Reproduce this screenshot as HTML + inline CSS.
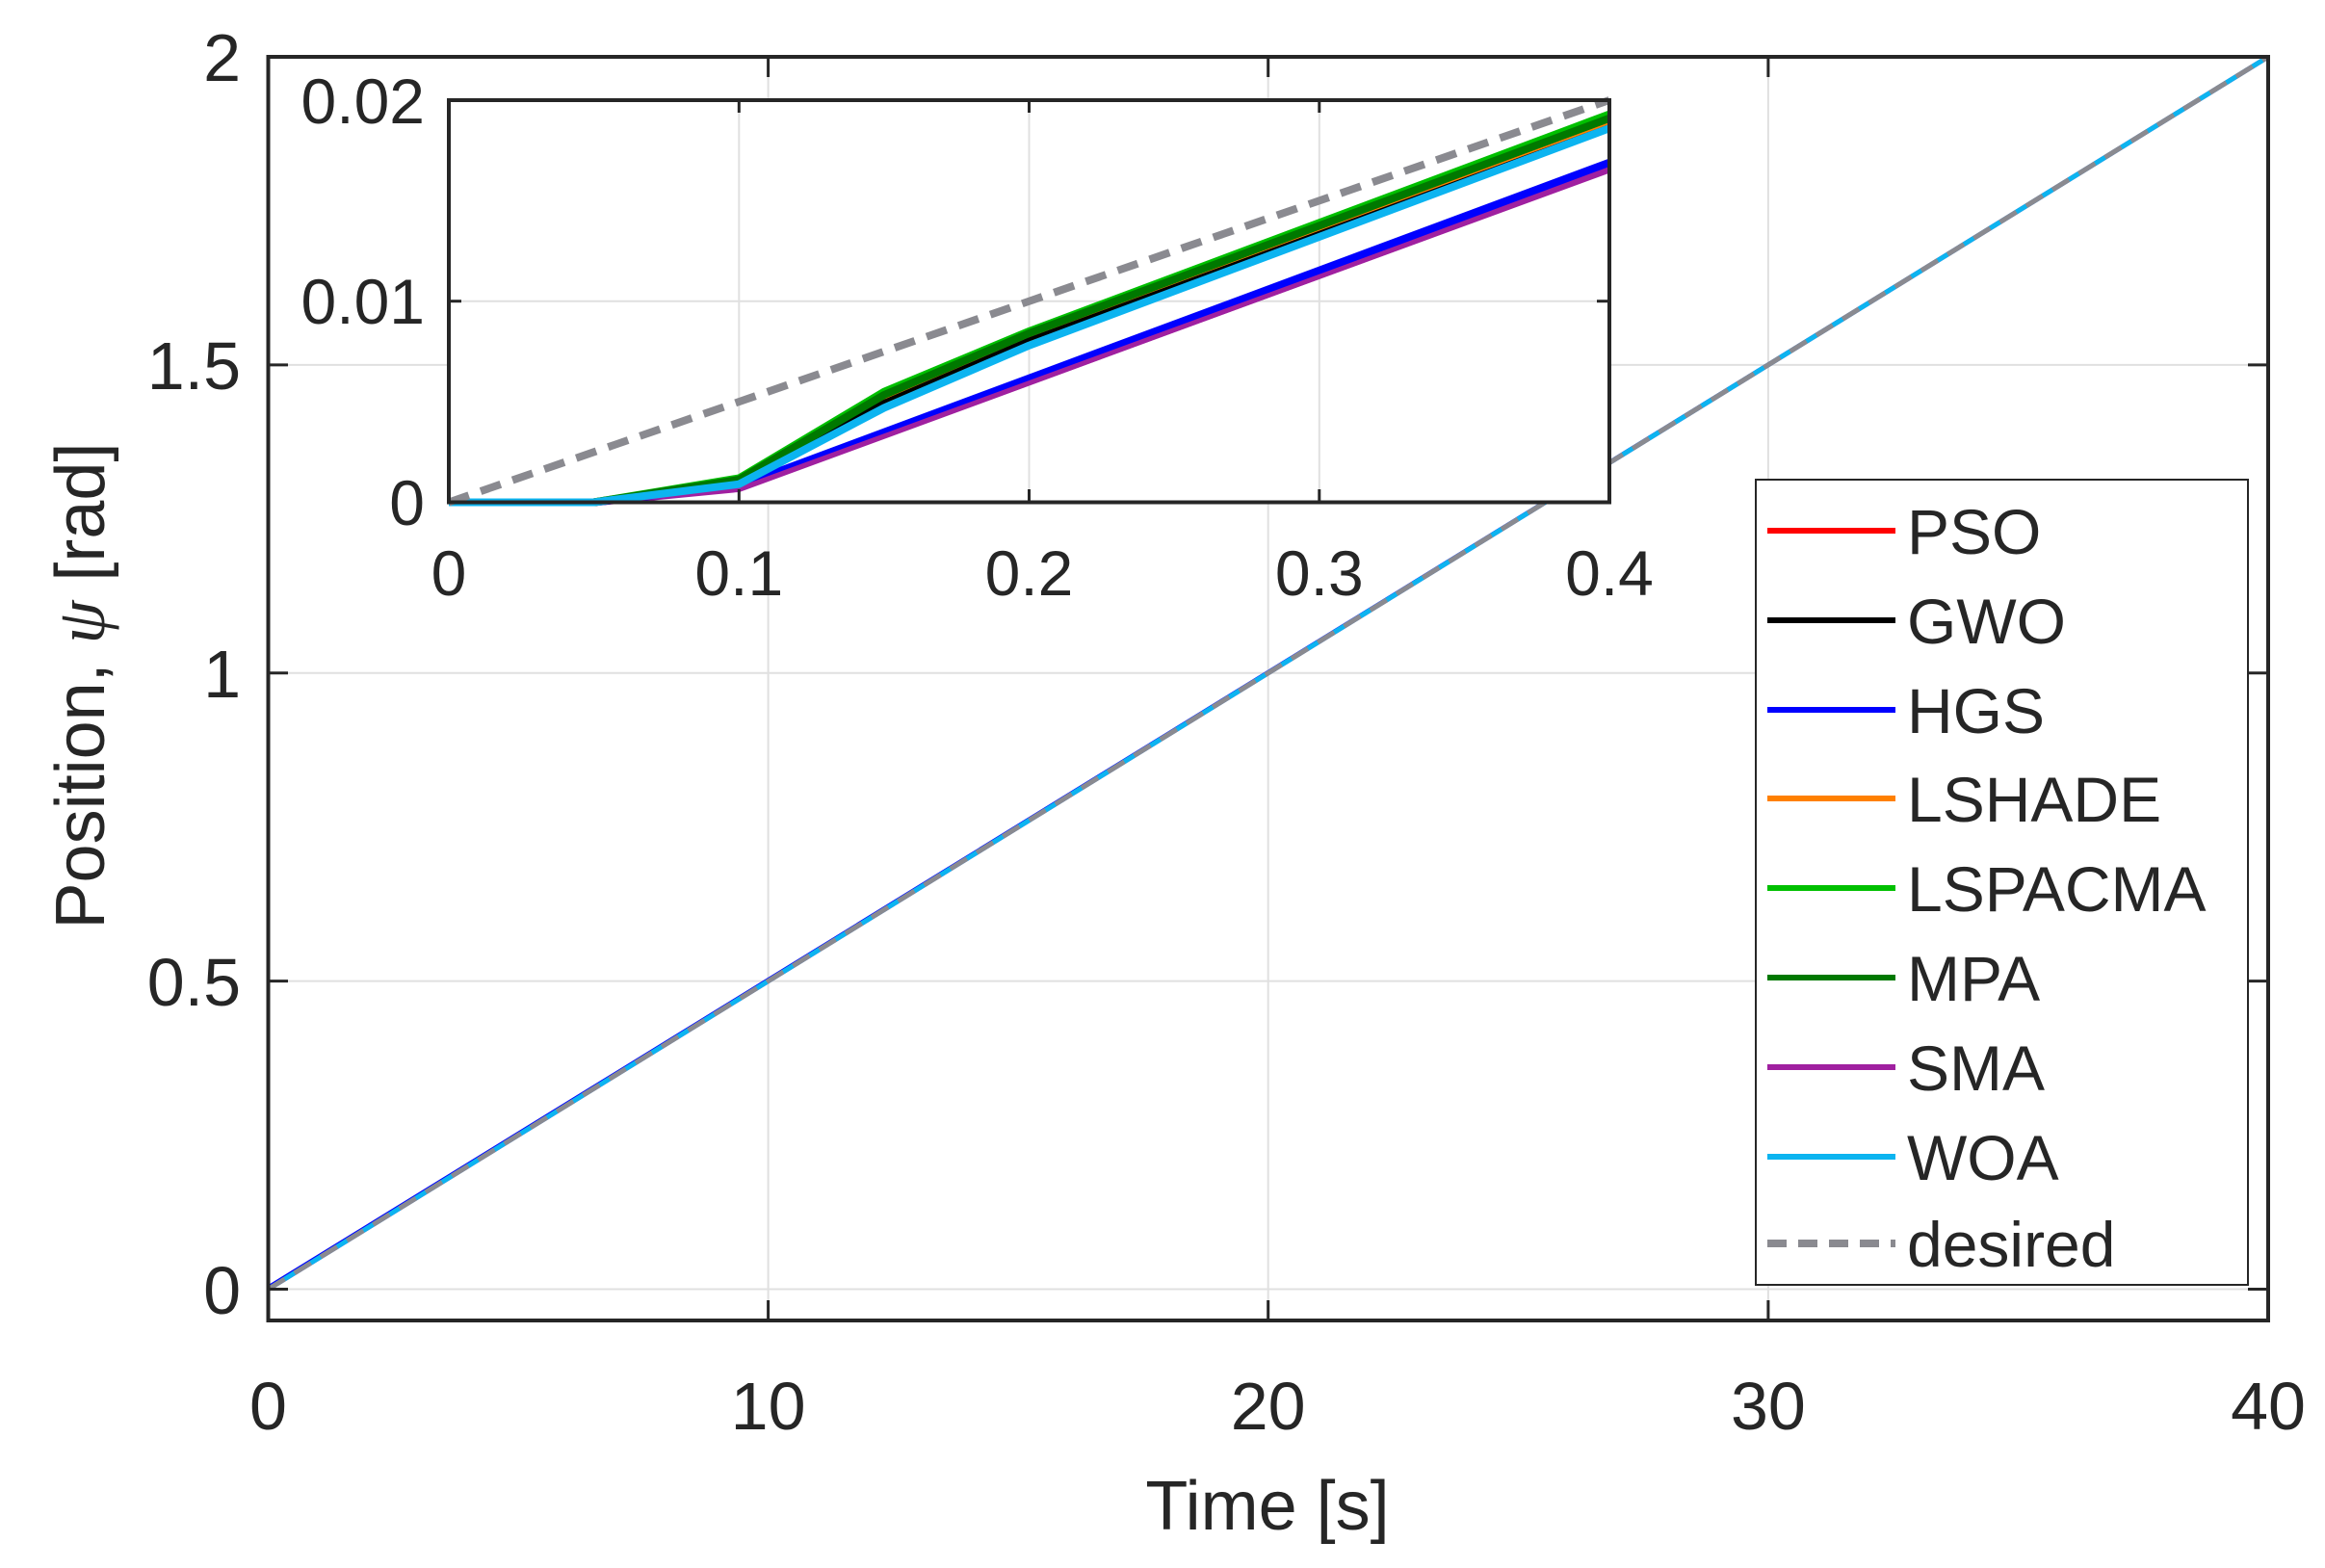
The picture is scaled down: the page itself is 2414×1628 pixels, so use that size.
<!DOCTYPE html>
<html><head><meta charset="utf-8"><style>
html,body{margin:0;padding:0;background:#fff;}
svg{display:block;}
text{font-family:"Liberation Sans",sans-serif;fill:#262626;}
</style></head><body>
<svg width="2414" height="1628" viewBox="0 0 2414 1628" xmlns="http://www.w3.org/2000/svg">
<rect width="2414" height="1628" fill="#fff"/>
<g stroke="#e0e0e0" stroke-width="2">
<line x1="797.6" y1="59" x2="797.6" y2="1371"/>
<line x1="1316.7" y1="59" x2="1316.7" y2="1371"/>
<line x1="1835.9" y1="59" x2="1835.9" y2="1371"/>
<line x1="278.5" y1="1338.5" x2="2355" y2="1338.5"/>
<line x1="278.5" y1="1018.6" x2="2355" y2="1018.6"/>
<line x1="278.5" y1="698.8" x2="2355" y2="698.8"/>
<line x1="278.5" y1="378.9" x2="2355" y2="378.9"/>
</g>
<line x1="278.5" y1="1338.5" x2="2355" y2="59" stroke="#a020a0" stroke-width="5"/>
<line x1="278.5" y1="1336.5" x2="2355" y2="59" stroke="#0000ff" stroke-width="4"/>
<line x1="278.5" y1="1338.5" x2="2355" y2="59" stroke="#0cb4f0" stroke-width="5"/>
<line x1="278.5" y1="1338.5" x2="2355" y2="59" stroke="#8a8a90" stroke-width="5" stroke-dasharray="20,12"/>
<rect x="278.5" y="59" width="2076.5" height="1312" fill="none" stroke="#262626" stroke-width="4"/>
<g stroke="#262626" stroke-width="3">
<line x1="797.6" y1="1371" x2="797.6" y2="1350"/><line x1="1316.7" y1="1371" x2="1316.7" y2="1350"/><line x1="1835.9" y1="1371" x2="1835.9" y2="1350"/>
<line x1="797.6" y1="59" x2="797.6" y2="80"/><line x1="1316.7" y1="59" x2="1316.7" y2="80"/><line x1="1835.9" y1="59" x2="1835.9" y2="80"/>
<line x1="278.5" y1="1338.5" x2="299" y2="1338.5"/><line x1="278.5" y1="1018.6" x2="299" y2="1018.6"/><line x1="278.5" y1="698.8" x2="299" y2="698.8"/><line x1="278.5" y1="378.9" x2="299" y2="378.9"/>
<line x1="2355" y1="1338.5" x2="2334" y2="1338.5"/><line x1="2355" y1="1018.6" x2="2334" y2="1018.6"/><line x1="2355" y1="698.8" x2="2334" y2="698.8"/><line x1="2355" y1="378.9" x2="2334" y2="378.9"/>
</g>
<g font-size="70" text-anchor="middle">
<text x="278.5" y="1484">0</text><text x="797.6" y="1484">10</text><text x="1316.7" y="1484">20</text><text x="1835.9" y="1484">30</text><text x="2355" y="1484">40</text>
</g>
<g font-size="70" text-anchor="end">
<text x="250" y="1364">0</text><text x="250" y="1044">0.5</text><text x="250" y="724">1</text><text x="250" y="404">1.5</text><text x="250" y="84">2</text>
</g>
<text x="1316" y="1588" font-size="72" text-anchor="middle">Time [s]</text>
<text transform="translate(108,712) rotate(-90)" font-size="72" text-anchor="middle">Position, <tspan font-family="Liberation Serif" font-style="italic">ψ</tspan> [rad]</text>

<rect x="466" y="104" width="1205" height="417.5" fill="#fff"/>
<g stroke="#e0e0e0" stroke-width="2">
<line x1="767.3" y1="104" x2="767.3" y2="521.5"/><line x1="1068.5" y1="104" x2="1068.5" y2="521.5"/><line x1="1369.8" y1="104" x2="1369.8" y2="521.5"/>
<line x1="466" y1="312.7" x2="1671" y2="312.7"/>
</g>
<g fill="none" stroke-width="8" stroke-linejoin="round">
<polyline stroke="#ff0000" points="466,521.5 616.6,521.5 767.3,500.6 918,417 1068.5,352.4 1671,131.1"/>
<polyline stroke="#a020a0" points="466,521.5 616.6,521.5 767.3,506.9 1671,175"/>
<polyline stroke="#0000ff" points="466,521.5 616.6,521.5 767.3,504.8 1671,168.7"/>
<polyline stroke="#a020a0" stroke-width="5" points="466,521.5 616.6,521.5 767.3,508 1671,177"/>
<polyline stroke="#ff8000" points="466,521.5 616.6,521.5 767.3,500.6 918,418 1068.5,354 1671,129"/>
<polyline stroke="#000000" stroke-width="4" points="466,521.5 616.6,521.5 767.3,500.6 918,417 1068.5,352.4 1671,131.1"/>
<polyline stroke="#00c000" points="466,521.5 616.6,521.5 767.3,496.5 918,406.7 1068.5,344 1671,118.6"/>
<polyline stroke="#007800" points="466,521.5 616.6,521.5 767.3,498 918,410 1068.5,346 1671,122.8"/>
<polyline stroke="#0cb4f0" points="466,521.5 616.6,521.5 767.3,502.7 918,423.4 1068.5,358.7 1671,133.2"/>
<line x1="466" y1="521.5" x2="1671" y2="104" stroke="#8a8a90" stroke-dasharray="22,13"/>
</g>
<rect x="466" y="104" width="1205" height="417.5" fill="none" stroke="#262626" stroke-width="4"/>
<g stroke="#262626" stroke-width="3">
<line x1="767.3" y1="521.5" x2="767.3" y2="508"/><line x1="1068.5" y1="521.5" x2="1068.5" y2="508"/><line x1="1369.8" y1="521.5" x2="1369.8" y2="508"/>
<line x1="767.3" y1="104" x2="767.3" y2="117"/><line x1="1068.5" y1="104" x2="1068.5" y2="117"/><line x1="1369.8" y1="104" x2="1369.8" y2="117"/>
<line x1="466" y1="312.7" x2="479" y2="312.7"/><line x1="1671" y1="312.7" x2="1658" y2="312.7"/>
</g>
<g font-size="66" text-anchor="middle">
<text x="466" y="618">0</text><text x="767.3" y="618">0.1</text><text x="1068.5" y="618">0.2</text><text x="1369.8" y="618">0.3</text><text x="1671" y="618">0.4</text>
</g>
<g font-size="66" text-anchor="end">
<text x="441" y="545">0</text><text x="441" y="336">0.01</text><text x="441" y="128">0.02</text>
</g>

<rect x="1823" y="498" width="511" height="836" fill="#fff" stroke="#262626" stroke-width="2"/>
<g stroke-width="6">
<line x1="1835" y1="551" x2="1968" y2="551" stroke="#ff0000"/>
<line x1="1835" y1="644" x2="1968" y2="644" stroke="#000000"/>
<line x1="1835" y1="737" x2="1968" y2="737" stroke="#0000ff"/>
<line x1="1835" y1="829" x2="1968" y2="829" stroke="#ff8000"/>
<line x1="1835" y1="922" x2="1968" y2="922" stroke="#00c000"/>
<line x1="1835" y1="1015" x2="1968" y2="1015" stroke="#007800"/>
<line x1="1835" y1="1108" x2="1968" y2="1108" stroke="#a020a0"/>
<line x1="1835" y1="1201" x2="1968" y2="1201" stroke="#0cb4f0"/>
<line x1="1835" y1="1291" x2="1968" y2="1291" stroke="#8a8a90" stroke-width="8" stroke-dasharray="20,12"/>
</g>
<g font-size="66">
<text x="1980" y="575">PSO</text>
<text x="1980" y="668">GWO</text>
<text x="1980" y="761">HGS</text>
<text x="1980" y="853">LSHADE</text>
<text x="1980" y="946">LSPACMA</text>
<text x="1980" y="1039">MPA</text>
<text x="1980" y="1132">SMA</text>
<text x="1980" y="1225">WOA</text>
<text x="1980" y="1315">desired</text>
</g>
</svg>
</body></html>
